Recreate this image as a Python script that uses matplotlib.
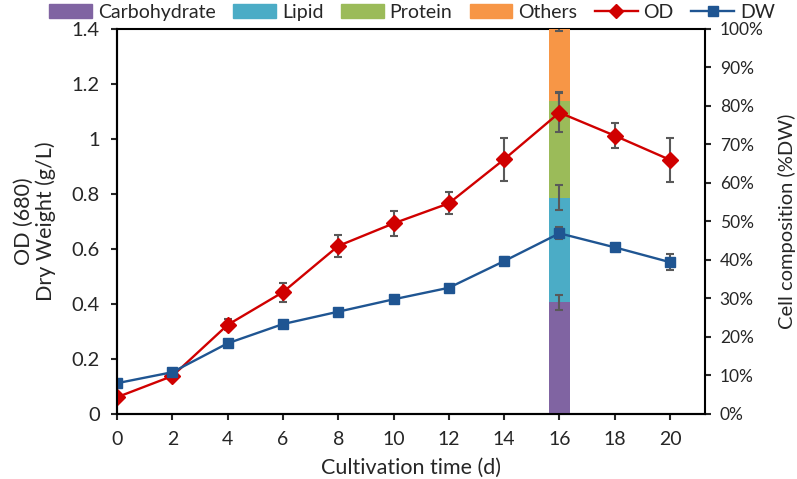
import matplotlib.pyplot as plt
from matplotlib.patches import Patch
from matplotlib.lines import Line2D
import numpy as np

plt.rcParams['font.family'] = ['Lato', 'DejaVu Sans']

days = [0, 2, 4, 6, 8, 10, 12, 14, 16, 18, 20]
od = [0.061, 0.138, 0.324, 0.443, 0.611, 0.693, 0.766, 0.926, 1.096, 1.012, 0.924]
od_err = [0.005, 0.01, 0.02, 0.035, 0.04, 0.045, 0.04, 0.078, 0.072, 0.045, 0.079]
dw = [0.112, 0.152, 0.257, 0.327, 0.372, 0.417, 0.459, 0.556, 0.657, 0.606, 0.552]
dw_err = [0.005, 0.005, 0.008, 0.008, 0.008, 0.008, 0.008, 0.015, 0.022, 0.008, 0.03]

# cell composition at day 16 (% of DW)
comp_day = 16
comp_names = ['Carbohydrate', 'Lipid', 'Protein', 'Others']
comp_vals = [29.0, 27.2, 25.1, 18.7]
comp_err = [1.9, 3.3, 2.4, 0.5]
comp_cols = ['#8064A2', '#4BACC6', '#9BBB59', '#F79646']

red = '#D00000'
blue = '#1F5592'
errc = '#595959'
txt = '#262626'

fig = plt.figure(figsize=(7.97, 4.79), dpi=100)
ax = fig.add_axes([0.1468, 0.1357, 0.738, 0.8038])
ax2 = ax.twinx()

# stacked bar on the percentage axis
bottom = 0
for v, e, c in zip(comp_vals, comp_err, comp_cols):
    ax2.bar(comp_day, v, 0.78, bottom=bottom, color=c, zorder=3)
    ax2.errorbar(comp_day, bottom + v, yerr=e, color=errc, lw=1.5, capsize=3, capthick=1.5, zorder=4)
    bottom += v
ax2.set_ylim(0, 100)
ax2.set_yticks(np.arange(0, 101, 10))
ax2.set_yticklabels([f'{t}%' for t in range(0, 101, 10)])
ax2.set_ylabel('Cell composition (%DW)', fontsize=14.5, labelpad=10, color=txt)

# lines on the primary axis, drawn over the bar
ax.set_zorder(ax2.get_zorder() + 1)
ax.patch.set_visible(False)
ax.errorbar(days, od, yerr=od_err, fmt='none', ecolor=errc, elinewidth=1.5, capsize=3, capthick=1.5)
ax.errorbar(days, dw, yerr=dw_err, fmt='none', ecolor=errc, elinewidth=1.5, capsize=3, capthick=1.5)
ax.plot(days, od, '-D', color=red, lw=1.7, ms=8.5)
ax.plot(days, dw, '-s', color=blue, lw=1.7, ms=7.5)

ax.set_xlim(0, 21.27)
ax.set_ylim(0, 1.4)
ax.set_xticks(days)
ax.set_yticks(np.arange(0, 1.41, 0.2))
ax.set_yticklabels(['0', '0.2', '0.4', '0.6', '0.8', '1', '1.2', '1.4'])
ax.set_xlabel('Cultivation time (d)', fontsize=15.5, labelpad=7, color=txt)
ax.set_ylabel('OD (680)\nDry Weight (g/L)', fontsize=15.5, labelpad=11, color=txt, linespacing=1.1)

for a in (ax, ax2):
    a.tick_params(width=1.5, length=4.5, colors=txt)
    for s in a.spines.values():
        s.set_linewidth(1.5)
        s.set_color('black')
ax.tick_params(axis='x', labelsize=14, pad=8)
ax.tick_params(axis='y', labelsize=14.5, pad=8)
ax2.tick_params(axis='y', labelsize=12.5, pad=6)
ax.spines['top'].set_visible(False)
ax.spines['right'].set_visible(False)

handles = [Patch(color=c) for c in comp_cols]
handles += [Line2D([], [], color=red, marker='D', lw=1.7, ms=7),
            Line2D([], [], color=blue, marker='s', lw=1.7, ms=7)]
leg = fig.legend(handles, comp_names + ['OD', 'DW'], loc='upper center', bbox_to_anchor=(0.517, 1.028),
                 ncol=6, frameon=False, fontsize=14, handlelength=2.2, handletextpad=0.3,
                 columnspacing=0.9)
for t in leg.get_texts():
    t.set_color(txt)

fig.savefig('out.png', dpi=100)
